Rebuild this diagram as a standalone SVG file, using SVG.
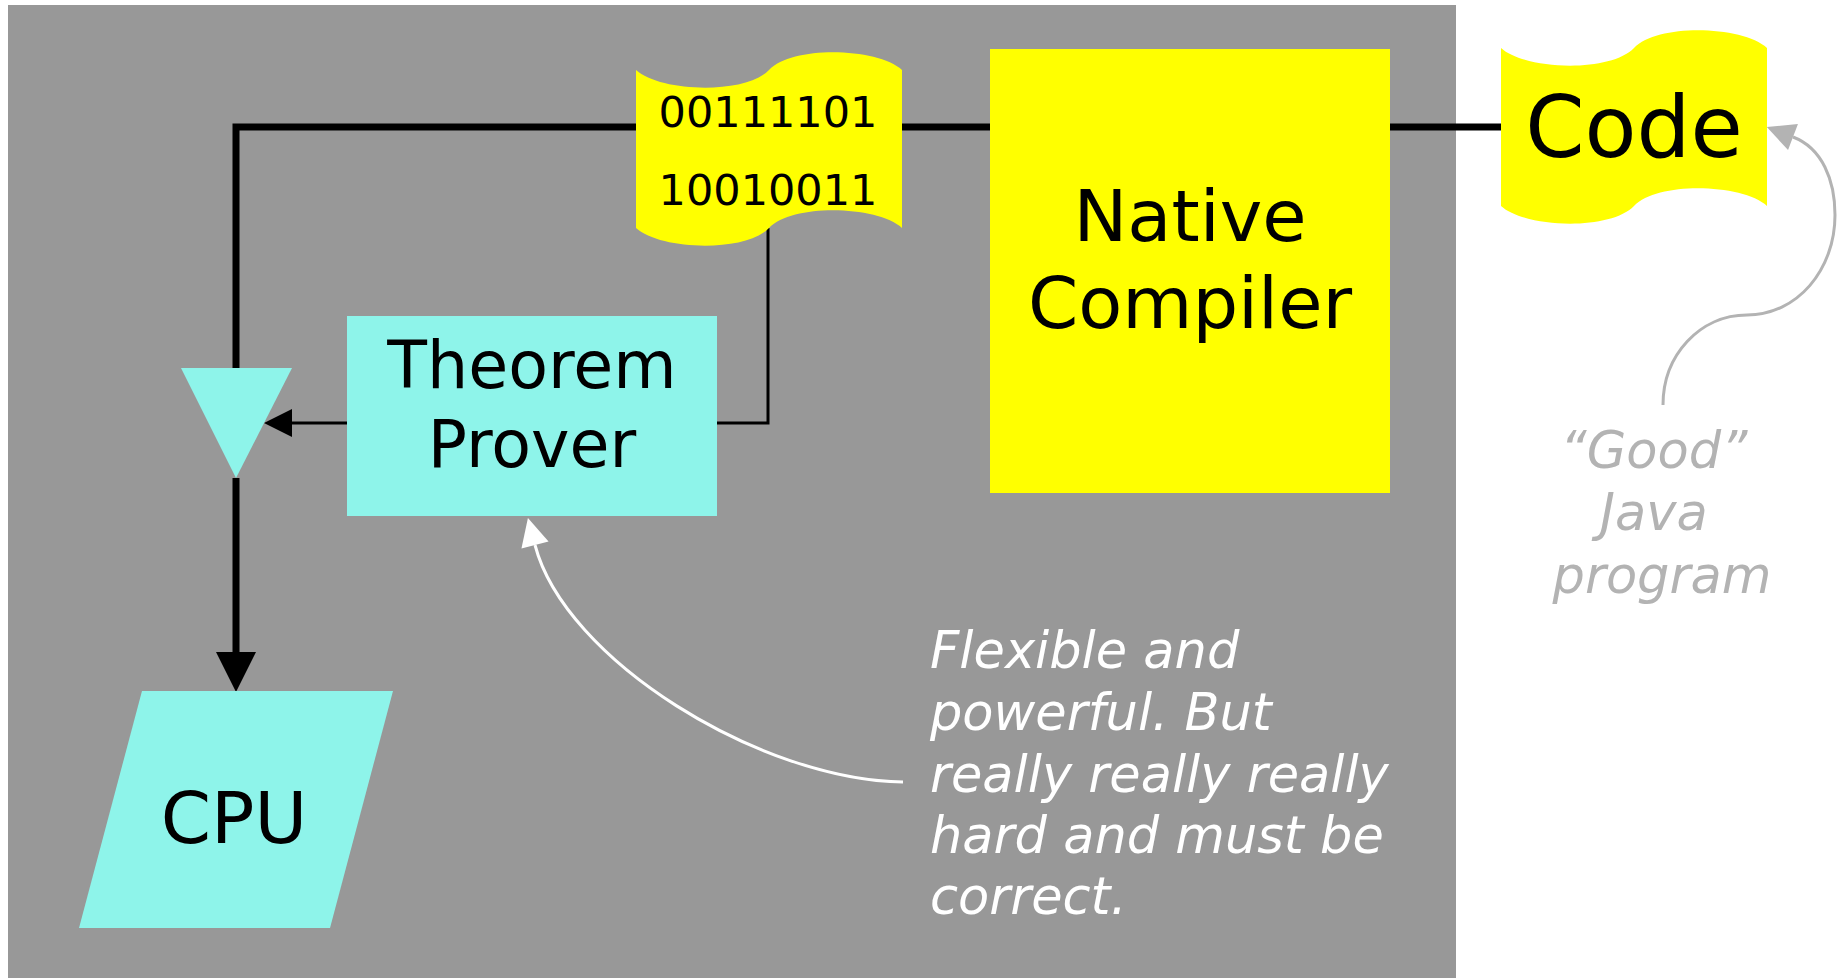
<svg xmlns="http://www.w3.org/2000/svg" width="1842" height="978" viewBox="0 0 1842 978">
  <style>
    .lbl { font-family: "DejaVu Sans", Verdana, sans-serif; fill: #000; text-anchor: middle; }
    .note { font-family: "DejaVu Sans", Verdana, sans-serif; font-style: italic; font-size: 51px; }
    .yellow { fill: #ffff00; }
    .cyan { fill: #8ef4ea; }
    .thick { fill: none; stroke: #000; stroke-width: 7; }
    .thin { fill: none; stroke: #000; stroke-width: 3; }
  </style>
  <defs>
    <marker id="bigHead" markerUnits="userSpaceOnUse" markerWidth="40" markerHeight="40" refX="0" refY="20" orient="auto" overflow="visible">
      <path d="M0,0 L40,20 L0,40 Z" fill="#000"/>
    </marker>
    <marker id="smallHead" markerUnits="userSpaceOnUse" markerWidth="28" markerHeight="28" refX="0" refY="14" orient="auto" overflow="visible">
      <path d="M0,0 L28,14 L0,28 Z" fill="#000"/>
    </marker>
    <marker id="whiteHead" markerUnits="userSpaceOnUse" markerWidth="28" markerHeight="28" refX="0" refY="14" orient="auto" overflow="visible">
      <path d="M0,0 L28,14 L0,28 Z" fill="#fff"/>
    </marker>
    <marker id="greyHead" markerUnits="userSpaceOnUse" markerWidth="28" markerHeight="28" refX="0" refY="14" orient="auto" overflow="visible">
      <path d="M0,0 L28,14 L0,28 Z" fill="#b3b3b3"/>
    </marker>
    <!-- punched-tape outline, 266 wide, origin at top-left corner -->
    <path id="tape" d="M0,0 C24,22 109,25 133,0 C157,-25 242,-22 266,0 V158 C242,136 157,133 133,158 C109,183 24,180 0,158 Z"/>
  </defs>

  <!-- backdrop panel -->
  <rect x="8" y="5" width="1448" height="973" fill="#989898"/>

  <g id="connectors">
    <!-- main data path: Code -> compiler -> binary -> gate -->
    <path class="thick" d="M1501,127 H236 V368"/>
    <!-- gate -> CPU -->
    <path class="thick" d="M236,478 V652" marker-end="url(#bigHead)"/>
    <!-- binary -> prover -> gate -->
    <path class="thin" d="M768,228 V423 H717"/>
    <path class="thin" d="M347,423 H292" marker-end="url(#smallHead)"/>
    <!-- annotation pointers -->
    <path d="M903,782 C760,780 565,660 535,545" fill="none" stroke="#fff" stroke-width="3" marker-end="url(#whiteHead)"/>
    <path d="M1663,405 C1663,355 1700,315 1747,315 C1797,315 1835,270 1835,215 C1835,180 1822,148 1793,137" fill="none" stroke="#b3b3b3" stroke-width="3" marker-end="url(#greyHead)"/>
  </g>

  <g id="binary">
    <use href="#tape" class="yellow" x="636" y="70"/>
    <text class="lbl" x="768" y="127" font-size="43">00111101</text>
    <text class="lbl" x="768" y="205" font-size="43">10010011</text>
  </g>

  <g id="native-compiler">
    <rect class="yellow" x="990" y="49" width="400" height="444"/>
    <text class="lbl" x="1190" y="241" font-size="72">Native</text>
    <text class="lbl" x="1190" y="328" font-size="72">Compiler</text>
  </g>

  <g id="code">
    <use href="#tape" class="yellow" x="1501" y="48"/>
    <text class="lbl" x="1634" y="157" font-size="85">Code</text>
  </g>

  <g id="theorem-prover">
    <rect class="cyan" x="347" y="316" width="370" height="200"/>
    <text class="lbl" x="532" y="388" font-size="65">Theorem</text>
    <text class="lbl" x="532" y="467" font-size="65">Prover</text>
  </g>

  <g id="gate">
    <polygon class="cyan" points="181,368 292,368 236,478"/>
  </g>

  <g id="cpu">
    <polygon class="cyan" points="142,691 393,691 330,928 79,928"/>
    <text class="lbl" x="234" y="843" font-size="72">CPU</text>
  </g>

  <g id="prover-note">
    <text class="note" fill="#fff" x="930">
      <tspan x="930" y="668">Flexible and</tspan>
      <tspan x="930" y="730">powerful. But</tspan>
      <tspan x="930" y="792">really really really</tspan>
      <tspan x="930" y="853">hard and must be</tspan>
      <tspan x="930" y="914">correct.</tspan>
    </text>
  </g>

  <g id="source-note">
    <text class="note" fill="#b3b3b3" text-anchor="middle">
      <tspan x="1662" y="468">“Good”</tspan>
      <tspan x="1662" y="530">Java</tspan>
      <tspan x="1662" y="593">program</tspan>
    </text>
  </g>
</svg>
